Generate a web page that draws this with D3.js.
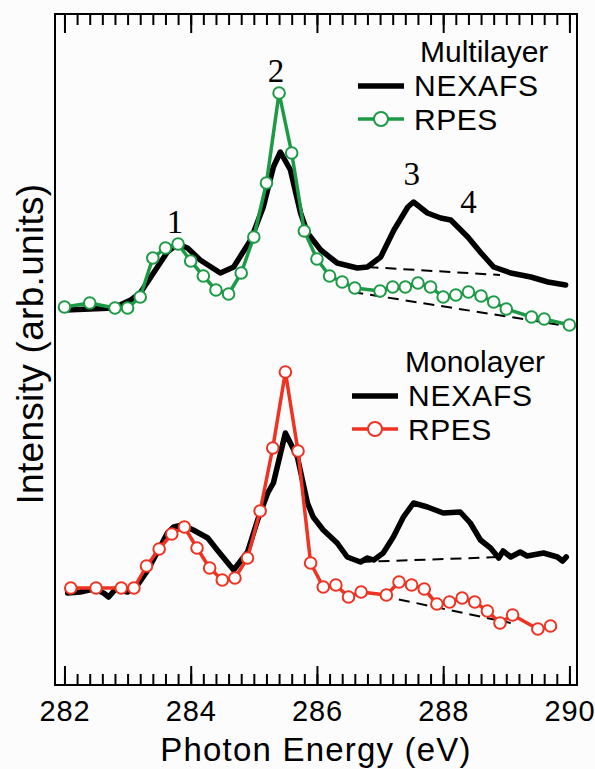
<!DOCTYPE html>
<html>
<head>
<meta charset="utf-8">
<script src="https://cdn.jsdelivr.net/npm/d3@7"></script>
<style>
  body { margin: 0; background: #fcfcfd; }
  text { font-family: "Liberation Sans", Arial, sans-serif; }
</style>
</head>
<body>
<div id="chart"></div>
<script>
// photon energy (eV) and intensity (arb. units, pixel-like scale 0..671)
const multiNexafsE = [282.02, 282.78, 283.05, 283.2, 283.41, 283.63, 283.79, 283.95, 284.15, 284.47, 284.68, 284.95, 285.15, 285.31, 285.42, 285.58, 285.74, 285.85, 286.06, 286.32, 286.64, 286.8, 287.01, 287.22, 287.44, 287.53, 287.75, 287.96, 288.12, 288.39, 288.6, 288.8, 289.07, 289.39, 289.66, 289.94];
const multiNexafsI = [375, 377, 385, 392, 412, 433, 441, 437, 425, 412, 418, 445, 478, 518, 533, 515, 472, 452, 435, 422, 417, 418, 428, 455, 478, 483, 472, 467, 465, 448, 432, 418, 412, 408, 403, 400];

const multiRpesE = [282.0, 282.4, 282.8, 283.0, 283.2, 283.4, 283.6, 283.8, 284.0, 284.2, 284.4, 284.6, 284.8, 285.0, 285.2, 285.4, 285.6, 285.8, 286.0, 286.2, 286.4, 286.6, 287.0, 287.2, 287.4, 287.6, 287.8, 288.0, 288.2, 288.4, 288.6, 288.8, 289.0, 289.4, 289.6, 290.0];
const multiRpesI = [378, 382, 377, 377, 388, 427, 437, 441, 424, 409, 395, 391, 412, 448, 502, 592, 532, 454, 426, 409, 403, 397, 394, 398, 398, 402, 398, 388, 390, 393, 389, 383, 376, 368, 366, 360];

const monoNexafsE = [282.05, 282.25, 282.46, 282.62, 282.7, 282.81, 283.0, 283.16, 283.32, 283.49, 283.63, 283.73, 283.87, 284.04, 284.27, 284.42, 284.68, 284.9, 285.06, 285.22, 285.31, 285.5, 285.69, 285.85, 285.94, 286.1, 286.32, 286.48, 286.69, 286.8, 286.9, 287.05, 287.21, 287.37, 287.53, 287.75, 288.0, 288.27, 288.43, 288.59, 288.75, 288.88, 288.95, 289.07, 289.22, 289.33, 289.59, 289.81, 289.89, 289.95];
const monoNexafsI = [92, 93, 96, 92, 88, 96, 93, 100, 115, 135, 152, 158, 160, 155, 147, 135, 115, 133, 165, 192, 202, 252, 228, 182, 168, 155, 142, 128, 123, 127, 125, 132, 148, 168, 182, 178, 172, 173, 162, 145, 137, 127, 134, 128, 133, 129, 132, 128, 124, 128];

const monoRpesE = [282.1, 282.5, 282.9, 283.1, 283.3, 283.5, 283.7, 283.9, 284.1, 284.3, 284.5, 284.7, 284.9, 285.1, 285.3, 285.5, 285.7, 285.9, 286.1, 286.3, 286.5, 286.7, 287.1, 287.3, 287.5, 287.7, 287.9, 288.1, 288.3, 288.5, 288.7, 288.9, 289.1, 289.5, 289.7];
const monoRpesI = [97, 97, 97, 97, 119, 136, 151, 158, 137, 117, 105, 107, 127, 174, 237, 313, 234, 122, 98, 100, 88, 93, 90, 103, 100, 96, 81, 83, 87, 83, 74, 62, 70, 56, 59];

// dashed backgrounds [[E1, I1], [E2, I2]]
const baselines = [
    [[286.8, 418], [288.9, 410]],
    [[286.56, 393], [289.86, 360]],
    [[286.69, 123], [288.9, 128]],
    [[286.74, 93], [289.07, 62]]
];

// peak labels
const peakNames = ["1", "2", "3", "4"];
const peakE = [283.75, 285.35, 287.5, 288.4];
const peakI = [452, 603, 500, 472];

const majorTicks = [282, 284, 286, 288, 290];

const width = 595;
const height = 769;
const margin = {top: 14, right: 18, bottom: 84, left: 55};

const green = "#1c9a45";
const red = "#ee3322";

const svg = d3.select("#chart")
    .append("svg")
    .attr("width", width)
    .attr("height", height);

const x = d3.scaleLinear().domain([281.85, 290.12]).range([margin.left, width - margin.right]);
const y = d3.scaleLinear().domain([0, 671]).range([height - margin.bottom, margin.top]);

const minorTicks = d3.range(0, 41).map(i => 282 + i * 0.2);

// frame
svg.append("rect")
    .attr("x", margin.left)
    .attr("y", margin.top)
    .attr("width", width - margin.left - margin.right)
    .attr("height", height - margin.top - margin.bottom)
    .attr("fill", "none")
    .attr("stroke", "black")
    .attr("stroke-width", 2);

// bottom axis, ticks pointing in
const bottomAxis = svg.append("g")
    .attr("transform", "translate(0," + (height - margin.bottom) + ")");
bottomAxis.append("g")
    .call(d3.axisBottom(x).tickValues(minorTicks).tickSize(-11).tickFormat(""));
bottomAxis.append("g")
    .call(d3.axisBottom(x).tickValues(majorTicks).tickSize(-19).tickPadding(15).tickFormat(d3.format("d")));
bottomAxis.selectAll(".domain").remove();
bottomAxis.selectAll("line").attr("stroke-width", 2);
bottomAxis.selectAll("text")
    .style("font-size", "29px")
    .style("letter-spacing", "0.8px")
    .attr("fill", "black");

// top axis, ticks pointing in
const topAxis = svg.append("g")
    .attr("transform", "translate(0," + margin.top + ")");
topAxis.append("g")
    .call(d3.axisTop(x).tickValues(minorTicks).tickSize(-11).tickFormat(""));
topAxis.append("g")
    .call(d3.axisTop(x).tickValues(majorTicks).tickSize(-19).tickFormat(""));
topAxis.selectAll(".domain").remove();
topAxis.selectAll("line").attr("stroke-width", 2);

// axis titles
svg.append("text")
    .attr("x", 316)
    .attr("y", 761)
    .attr("text-anchor", "middle")
    .style("font-size", "33px")
    .style("letter-spacing", "1.2px")
    .text("Photon Energy (eV)");

svg.append("text")
    .attr("transform", "translate(43,344) rotate(-90)")
    .attr("text-anchor", "middle")
    .style("font-size", "37px")
    .style("letter-spacing", "0.3px")
    .text("Intensity (arb.units)");

const line = d3.line().x(d => x(d[0])).y(d => y(d[1]));

function zipSeries(es, is) {
    return es.map((e, i) => [e, is[i]]);
}

// dashed baselines
baselines.forEach(b => {
    svg.append("path")
        .attr("d", line(b))
        .attr("fill", "none")
        .attr("stroke", "black")
        .attr("stroke-width", 2)
        .attr("stroke-dasharray", "11,7");
});

function drawSpectrum(es, is, color, lw) {
    svg.append("path")
        .attr("d", line(zipSeries(es, is)))
        .attr("fill", "none")
        .attr("stroke", color)
        .attr("stroke-width", lw)
        .attr("stroke-linejoin", "round")
        .attr("stroke-linecap", "round");
}

function drawRpes(es, is, color) {
    const pts = zipSeries(es, is);
    svg.append("path")
        .attr("d", line(pts))
        .attr("fill", "none")
        .attr("stroke", color)
        .attr("stroke-width", 3.5)
        .attr("stroke-linejoin", "round");
    svg.append("g")
        .selectAll("circle")
        .data(pts)
        .enter()
        .append("circle")
        .attr("cx", d => x(d[0]))
        .attr("cy", d => y(d[1]))
        .attr("r", 5.8)
        .attr("fill", "white")
        .attr("stroke", color)
        .attr("stroke-width", 2);
}

drawSpectrum(multiNexafsE, multiNexafsI, "black", 5.5);
drawRpes(multiRpesE, multiRpesI, green);
drawSpectrum(monoNexafsE, monoNexafsI, "black", 5.5);
drawRpes(monoRpesE, monoRpesI, red);

// peak numbers
svg.selectAll(".peak")
    .data(peakNames)
    .enter()
    .append("text")
    .attr("class", "peak")
    .attr("x", (d, i) => x(peakE[i]))
    .attr("y", (d, i) => y(peakI[i]))
    .attr("text-anchor", "middle")
    .style("font-family", "'Liberation Serif', 'Times New Roman', serif")
    .style("font-size", "33px")
    .text(d => d);

// legends
function legend(x0, y0, titleX, title, color) {
    const g = svg.append("g").attr("transform", "translate(" + x0 + "," + y0 + ")");
    g.append("text")
        .attr("x", titleX).attr("y", 0)
        .style("font-size", "30px")
        .text(title);
    g.append("line")
        .attr("x1", 0).attr("x2", 46).attr("y1", 24).attr("y2", 24)
        .attr("stroke", "black").attr("stroke-width", 5.5);
    g.append("text")
        .attr("x", 56).attr("y", 34)
        .style("font-size", "30px").style("letter-spacing", "0.8px")
        .text("NEXAFS");
    g.append("line")
        .attr("x1", 0).attr("x2", 46).attr("y1", 57).attr("y2", 57)
        .attr("stroke", color).attr("stroke-width", 3.5);
    g.append("circle")
        .attr("cx", 23).attr("cy", 57).attr("r", 7)
        .attr("fill", "white").attr("stroke", color).attr("stroke-width", 2);
    g.append("text")
        .attr("x", 56).attr("y", 68)
        .style("font-size", "30px").style("letter-spacing", "0.5px")
        .text("RPES");
}

legend(358, 62, 62, "Multilayer", green);
legend(352, 372, 53, "Monolayer", red);
</script>
</body>
</html>
